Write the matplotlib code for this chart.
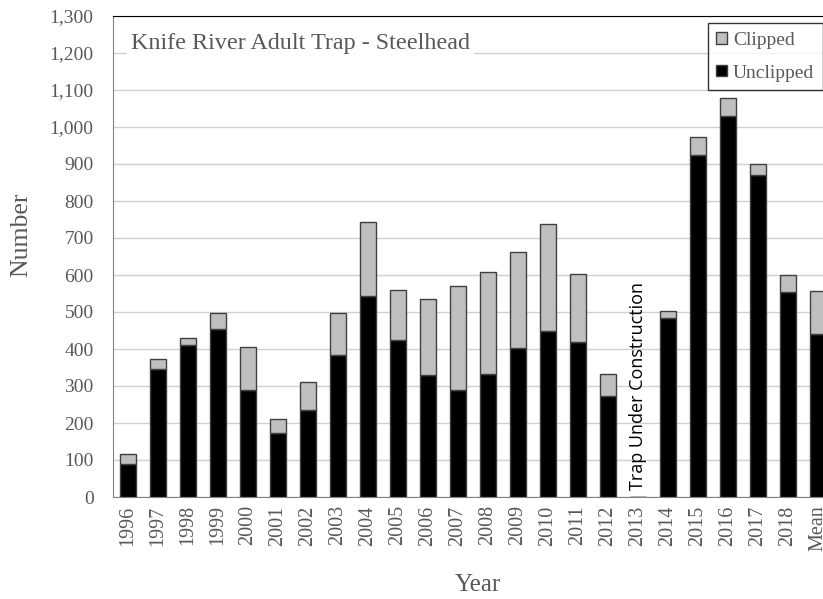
import matplotlib
matplotlib.use("Agg")
import matplotlib.pyplot as plt
from matplotlib.patches import Patch
import numpy as np

categories = ["1996", "1997", "1998", "1999", "2000", "2001", "2002", "2003",
              "2004", "2005", "2006", "2007", "2008", "2009", "2010", "2011",
              "2012", "2013", "2014", "2015", "2016", "2017", "2018", "Mean"]
unclipped = [89, 347, 410, 453, 289, 173, 236, 385, 543, 424, 329, 289,
             332, 403, 450, 420, 272, 0, 485, 924, 1031, 871, 555, 441]
total = [116, 373, 431, 496, 406, 211, 310, 496, 742, 559, 534, 570,
         607, 661, 739, 602, 333, 0, 503, 972, 1079, 899, 601, 556]
clipped = [t - u for t, u in zip(total, unclipped)]

plt.rcParams['font.family'] = ['Liberation Serif', 'DejaVu Serif']

W, H = 823, 599
fig = plt.figure(figsize=(W / 100, H / 100), dpi=100)
ax = fig.add_axes([113 / W, 1 - 497 / H, 710 / W, (497 - 16) / H])

x = np.arange(len(categories))
w = 0.53
ax.bar(x, unclipped, w, color='black', edgecolor='#404040', linewidth=1.0, zorder=3)
ax.bar(x, clipped, w, bottom=unclipped, color='#BFBFBF', edgecolor='#404040',
       linewidth=1.0, zorder=3)

ax.set_xlim(-0.5, 23.17)
ax.set_ylim(0, 1300)
ax.set_yticks(np.arange(0, 1301, 100))
ax.set_yticklabels([f"{v:,}" for v in range(0, 1301, 100)], fontsize=14, color='#595959')
ax.set_xticks(x)
ax.set_xticklabels(categories, rotation=90, fontsize=14.5, color='#595959')
ax.tick_params(length=0)
ax.tick_params(axis='y', pad=14)
ax.tick_params(axis='x', pad=6)
ax.yaxis.grid(True, color='#D0D0D0', linewidth=1.0, zorder=0)
ax.set_axisbelow(True)

for s in ['left', 'bottom']:
    ax.spines[s].set_color('#808080')
ax.spines['right'].set_visible(False)
ax.spines['top'].set_color('black')

fig.text(21 / W, 1 - 235 / H, "Number", rotation=90, ha='center', va='center',
         fontsize=18.5, color='#595959')
fig.text(478 / W, 1 - 585 / H, "Year", ha='center', va='center',
         fontsize=18, color='#595959')

ax.text(18 / 710, (497 - 43) / 481, "Knife River Adult Trap - Steelhead",
        transform=ax.transAxes, fontsize=17.4, color='#595959', va='center',
        ha='left', bbox=dict(facecolor='white', edgecolor='none', pad=3), zorder=4)

ax.text(17, 18, "Trap Under Construction", rotation=90, ha='center', va='bottom',
        fontsize=13, family=['Open Sans', 'DejaVu Sans'], color='black', zorder=4)

handles = [Patch(facecolor='#BFBFBF', edgecolor='#404040', label='Clipped'),
           Patch(facecolor='black', edgecolor='#404040', label='Unclipped')]
leg = ax.legend(handles=handles, loc='upper right', bbox_to_anchor=(1.0, 0.985),
                fontsize=14, frameon=True, fancybox=False, edgecolor='black',
                handlelength=0.55, handleheight=0.55, handletextpad=0.3,
                borderpad=0.45, labelspacing=0.8, borderaxespad=0)
leg.get_frame().set_linewidth(1.0)
for t in leg.get_texts():
    t.set_color('#595959')

fig.savefig("out.png", dpi=100)
